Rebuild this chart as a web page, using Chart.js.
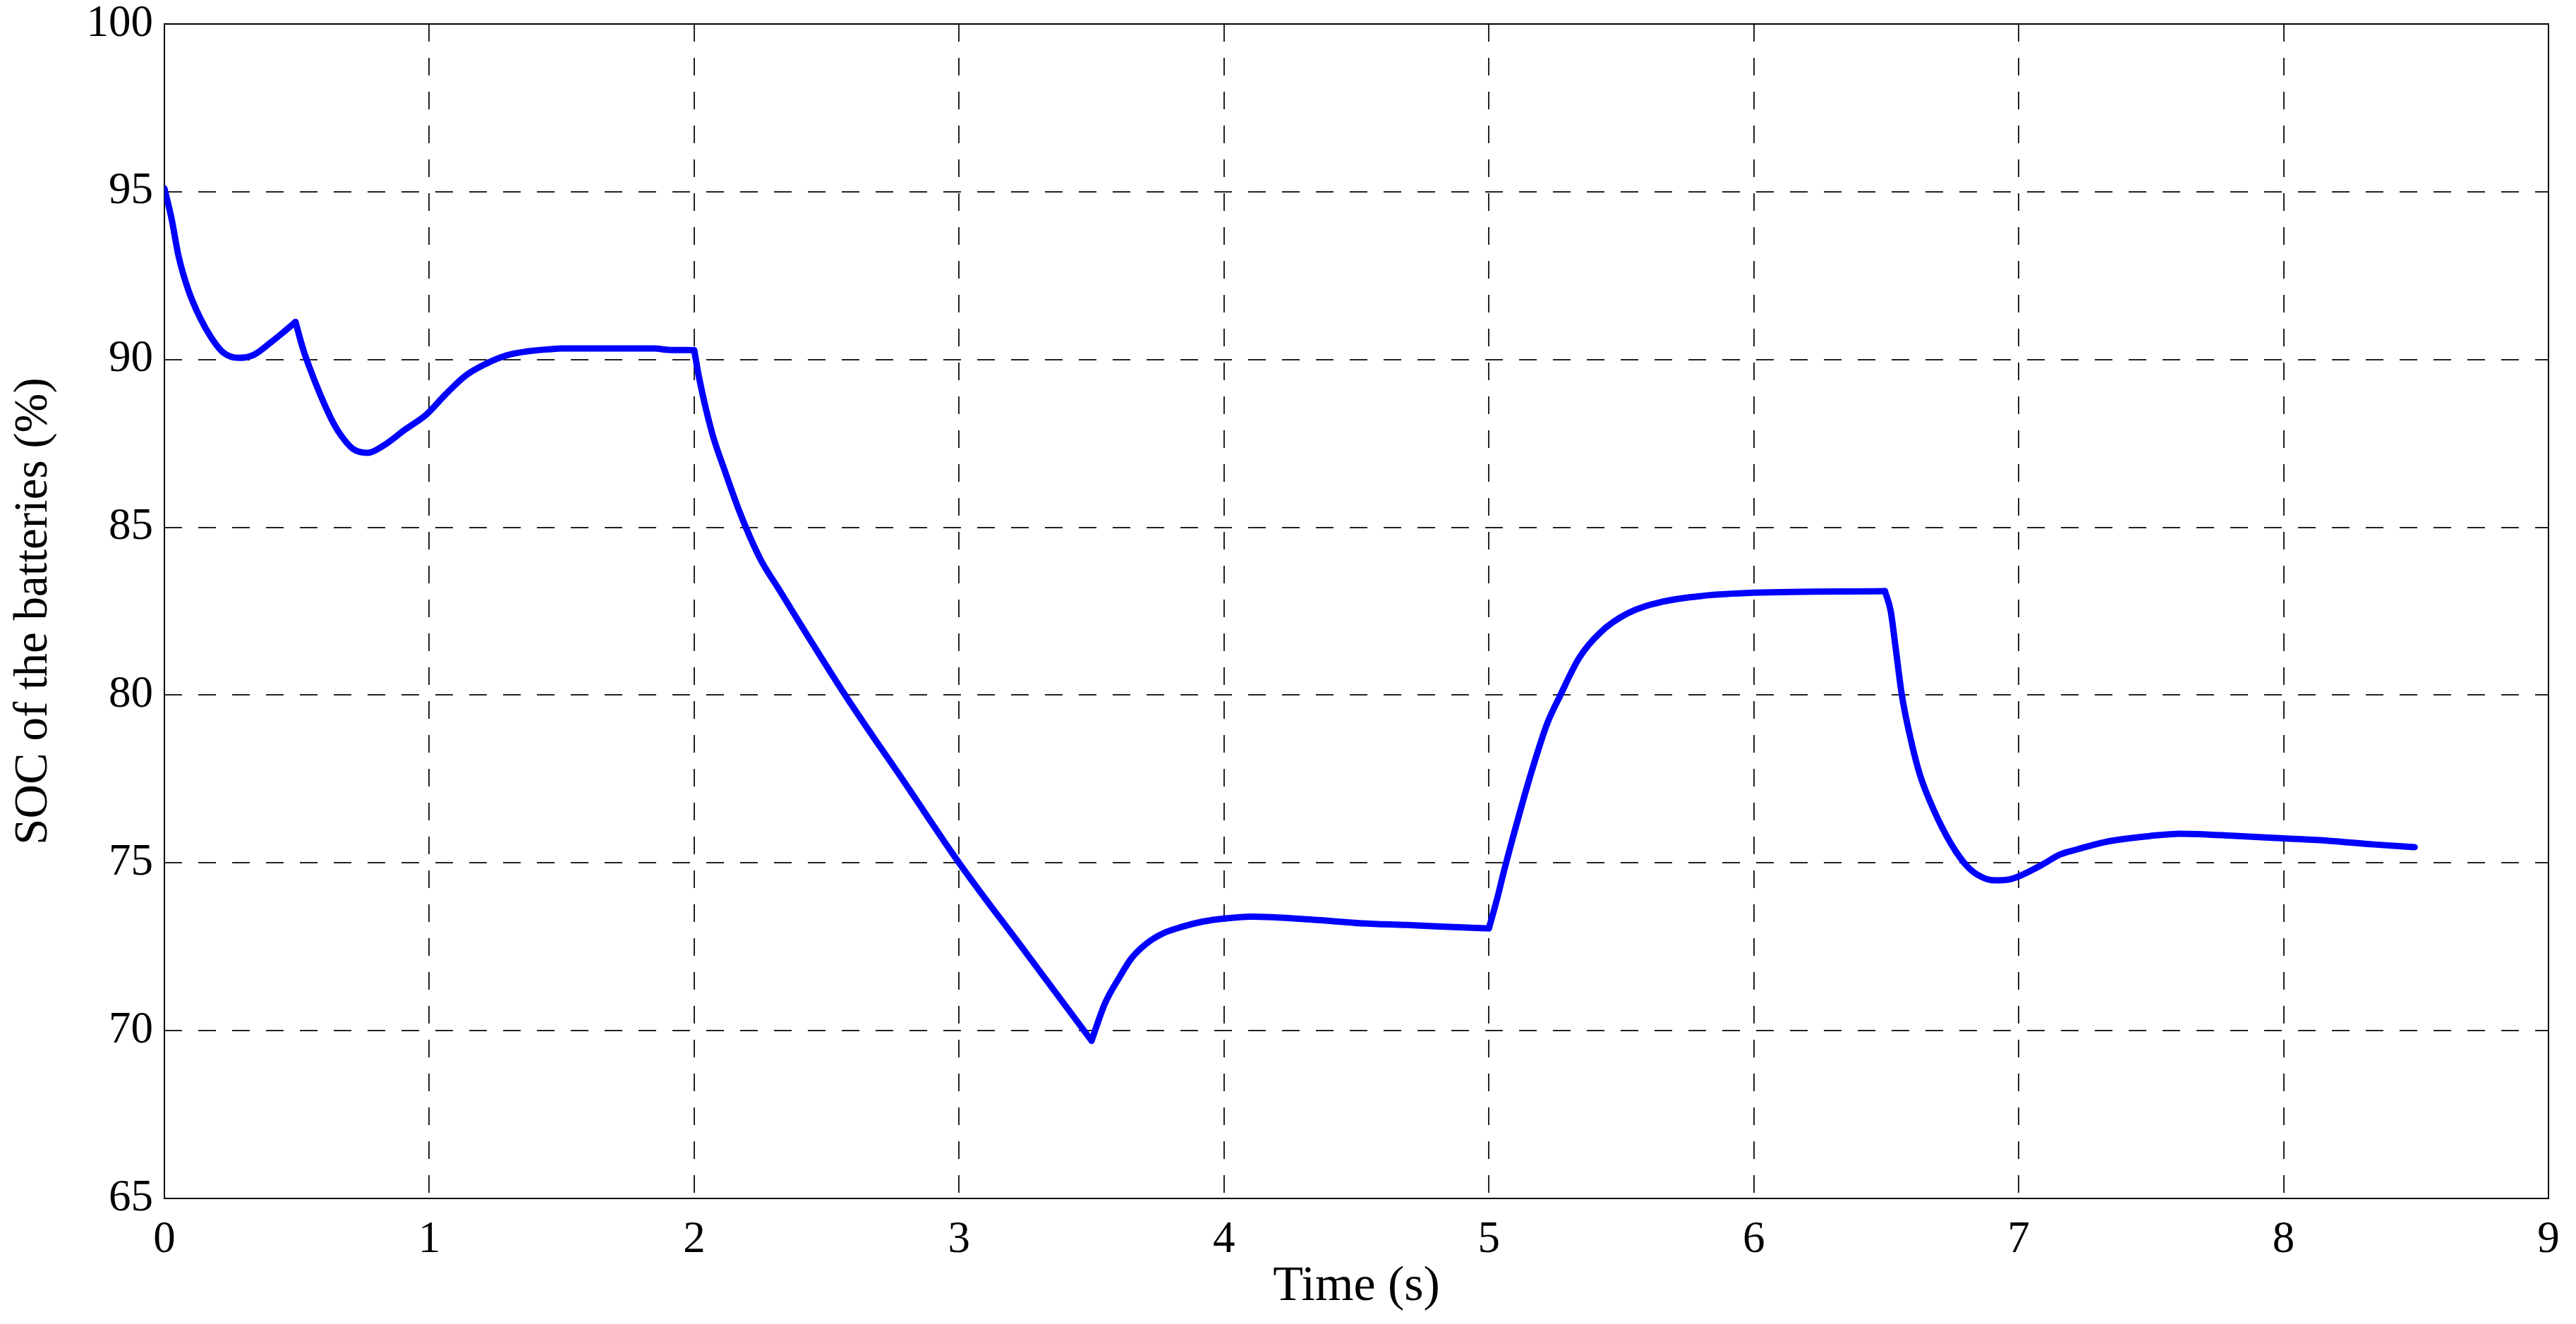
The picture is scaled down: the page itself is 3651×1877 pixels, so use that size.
<!DOCTYPE html>
<html>
<head>
<meta charset="utf-8">
<script src="https://cdn.jsdelivr.net/npm/chart.js@4.4.1/dist/chart.umd.min.js"></script>
<style>
    html, body { margin: 0; padding: 0; background: #fff; }
    #wrap { width: 3651px; height: 1877px; position: relative; }
</style>
</head>
<body>
<div id="wrap"><canvas id="socChart"></canvas></div>
<script>
// values
const timeS = [
    0.00, 0.027, 0.053, 0.089, 0.133, 0.178, 0.222, 0.28, 0.337, 0.40, 0.45, 0.495,
    0.524, 0.55, 0.586, 0.63, 0.664, 0.71, 0.768, 0.824, 0.908, 0.99, 1.061, 1.137,
    1.213, 1.29, 1.366, 1.458, 1.5, 1.85, 1.9, 2.0,
    2.02, 2.068, 2.114, 2.175, 2.25, 2.316, 2.57, 2.8, 3.0, 3.25, 3.5,
    3.55, 3.606, 3.65, 3.708, 3.77, 3.844, 3.92, 4.0, 4.1, 4.35, 4.52, 4.69, 4.95, 5.0,
    5.03, 5.06, 5.12, 5.17, 5.22, 5.27, 5.34, 5.42, 5.525, 5.66, 5.81, 6.0, 6.495,
    6.517, 6.534, 6.559, 6.593, 6.627, 6.678, 6.746, 6.81, 6.86, 6.91, 6.966, 7.085,
    7.156, 7.22, 7.325, 7.495, 7.61, 7.83, 8.0, 8.17, 8.34, 8.495
];
const socPct = [
    95.1, 94.2, 93.1, 92.1, 91.27, 90.64, 90.21, 90.05, 90.14, 90.5, 90.82, 91.12,
    90.3, 89.72, 89.0, 88.23, 87.77, 87.35, 87.22, 87.42, 87.91, 88.37, 88.96, 89.52,
    89.87, 90.12, 90.24, 90.31, 90.33, 90.33, 90.29, 90.28,
    89.4, 87.8, 86.72, 85.39, 84.05, 83.2, 80.0, 77.33, 75.0, 72.35, 69.7,
    70.8, 71.6, 72.15, 72.6, 72.9, 73.1, 73.25, 73.34, 73.4, 73.3, 73.2, 73.15, 73.06, 73.05,
    73.9, 74.85, 76.6, 77.95, 79.15, 80.0, 81.1, 81.86, 82.44, 82.79, 82.96, 83.05, 83.1,
    82.5, 81.5, 80.0, 78.67, 77.63, 76.6, 75.55, 74.86, 74.58, 74.48, 74.51, 74.93,
    75.25, 75.4, 75.62, 75.8, 75.87, 75.8, 75.73, 75.66, 75.55, 75.47
];
// switching instants where the curve has a sharp corner
const cornerTimes = [0.495, 2.0, 3.5, 5.0, 6.495];
const xTicks = [0, 1, 2, 3, 4, 5, 6, 7, 8, 9];
const yTicks = [65, 70, 75, 80, 85, 90, 95, 100];

const serif = "'Liberation Serif', 'DejaVu Serif', serif";

// black box around the plot area
const boxPlugin = {
    id: 'box',
    beforeDatasetsDraw(chart) {
        const {ctx, chartArea: a} = chart;
        ctx.save();
        ctx.strokeStyle = '#000';
        ctx.lineWidth = 2;
        ctx.strokeRect(a.left, a.top, a.right - a.left, a.bottom - a.top);
        ctx.restore();
    }
};

// one smooth piece per interval between corners, so the corners stay sharp
const cuts = [0, ...cornerTimes.map(t => timeS.indexOf(t)), timeS.length - 1];
const datasets = [];
for (let k = 0; k < cuts.length - 1; k++) {
    const pts = [];
    for (let i = cuts[k]; i <= cuts[k + 1]; i++) pts.push({x: timeS[i], y: socPct[i]});
    datasets.push({
        data: pts,
        borderColor: '#0000ff',
        borderWidth: 9,
        borderCapStyle: 'round',
        borderJoinStyle: 'round',
        pointRadius: 0,
        cubicInterpolationMode: 'monotone',
        fill: false
    });
}

const gridOpts = {color: '#222', lineWidth: 2, drawTicks: false};
const borderOpts = {display: false, dash: [25, 23]};

new Chart(document.getElementById('socChart').getContext('2d'), {
    type: 'line',
    data: {datasets: datasets},
    options: {
        responsive: true,
        maintainAspectRatio: false,
        animation: false,
        layout: {padding: {top: 34, right: 39, left: 0, bottom: 0}},
        plugins: {legend: {display: false}, tooltip: {enabled: false}},
        scales: {
            x: {
                type: 'linear',
                min: 0, max: 9,
                afterBuildTicks: s => { s.ticks = xTicks.map(v => ({value: v})); },
                afterFit: s => { s.height = 178; s.paddingLeft = 0; s.paddingRight = 0; },
                border: borderOpts,
                grid: gridOpts,
                ticks: {color: '#000', padding: 22, font: {family: serif, size: 63}},
                title: {display: true, text: 'Time (s)', color: '#000', padding: {bottom: 10},
                        font: {family: serif, size: 70}}
            },
            y: {
                min: 65, max: 100,
                afterBuildTicks: s => { s.ticks = yTicks.map(v => ({value: v})); },
                afterFit: s => { s.width = 233; s.paddingTop = 0; s.paddingBottom = 0; },
                border: borderOpts,
                grid: gridOpts,
                ticks: {color: '#000', padding: 16, font: {family: serif, size: 63}},
                title: {display: true, text: 'SOC of the batteries (%)', color: '#000', padding: {top: 8},
                        font: {family: serif, size: 67}}
            }
        }
    },
    plugins: [boxPlugin]
});
</script>
</body>
</html>
